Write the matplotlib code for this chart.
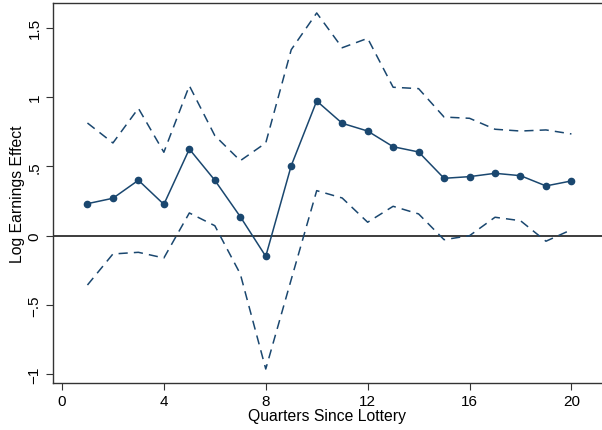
import numpy as np
import matplotlib
matplotlib.use('Agg')
import matplotlib.pyplot as plt

plt.rcParams['font.family'] = ['Liberation Sans', 'DejaVu Sans']

# Quarters since lottery and estimated effects
quarters = np.arange(1, 21)
effect = [0.231, 0.27, 0.40, 0.226, 0.625, 0.40, 0.137, -0.149, 0.505, 0.972,
          0.811, 0.755, 0.642, 0.604, 0.414, 0.426, 0.45, 0.433, 0.359, 0.395]
ci_upper = [0.813, 0.669, 0.919, 0.602, 1.082, 0.722, 0.541, 0.669, 1.342, 1.607,
            1.356, 1.424, 1.071, 1.061, 0.856, 0.847, 0.768, 0.755, 0.763, 0.734]
ci_lower = [-0.356, -0.132, -0.12, -0.161, 0.164, 0.072, -0.276, -0.962, -0.316, 0.325,
            0.272, 0.097, 0.212, 0.157, -0.029, 0.0, 0.133, 0.108, -0.04, 0.043]

xticks = [0, 4, 8, 12, 16, 20]
yticks = [-1, -0.5, 0, 0.5, 1, 1.5]
ytick_labels = ['\u22121', '\u2212.5', '0', '.5', '1', '1.5']

navy = '#1a476f'

fig = plt.figure(figsize=(6.02, 4.31), dpi=100)
ax = fig.add_axes([0.0875, 0.1084, 0.9125, 0.883])

ax.axhline(0, color='#3c3c3c', lw=1.4, zorder=1)
ax.plot(quarters, ci_upper, color=navy, lw=1.1, dashes=(6, 4))
ax.plot(quarters, ci_lower, color=navy, lw=1.1, dashes=(6, 4))
ax.plot(quarters, effect, color=navy, lw=1.1, marker='o', markersize=4.5)

ax.set_xlim(-0.365, 21.2)
ax.set_ylim(-1.065, 1.681)
ax.set_xticks(xticks)
ax.set_yticks(yticks)
ax.set_yticklabels(ytick_labels, rotation=90, va='center')
ax.tick_params(labelsize=11, length=5, width=0.8, color='#333333', pad=3)

for s in ['left', 'bottom', 'top']:
    ax.spines[s].set_color('#333333')
    ax.spines[s].set_linewidth(1.0)
ax.spines['right'].set_visible(False)

ax.set_xlabel('Quarters Since Lottery', fontsize=11.3, labelpad=0)
ax.set_ylabel('Log Earnings Effect', fontsize=11.3, labelpad=2)

fig.savefig('out.png', dpi=100)
